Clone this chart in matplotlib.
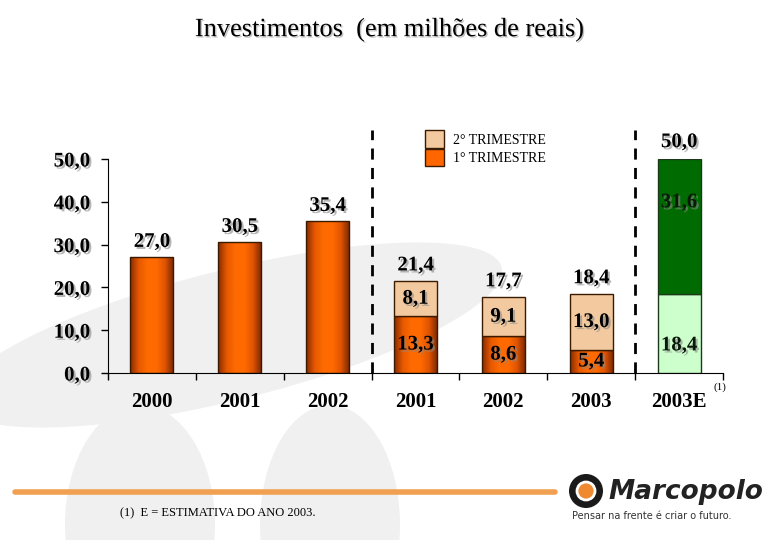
import matplotlib
matplotlib.use("Agg")
import matplotlib.pyplot as plt
import matplotlib.patheffects as pe
from matplotlib.patches import Patch, Ellipse, Circle
from matplotlib.colors import LinearSegmentedColormap
import numpy as np

# data
categories = ["2000", "2001", "2002", "2001", "2002", "2003", "2003E"]
annual_vals = [27.0, 30.5, 35.4]
q1_vals = [13.3, 8.6, 5.4]
q2_vals = [8.1, 9.1, 13.0]
half_totals = [21.4, 17.7, 18.4]
est_base = 18.4
est_rest = 31.6
est_total = 50.0
yticks = [0, 10, 20, 30, 40, 50]

def fmt(v):
    return f"{v:.1f}".replace(".", ",")

plt.rcParams['font.family'] = ['Liberation Serif', 'DejaVu Serif']

fig = plt.figure(figsize=(7.8, 5.4), dpi=100)
fig.patch.set_facecolor("white")

# faint grey swooshes in the background
bg = fig.add_axes([0, 0, 1, 1], zorder=-5)
bg.set_xlim(0, 780); bg.set_ylim(540, 0); bg.axis("off")
for (cx, cy, w, h, a) in [(230, 335, 560, 130, -14), (140, 525, 150, 240, 0),
                          (330, 525, 140, 240, 0)]:
    bg.add_patch(Ellipse((cx, cy), w, h, angle=a, facecolor="#f0f0f0", edgecolor="none"))

ax = fig.add_axes([108/780, 1-373/540, 615/780, 214/540])
ax.set_facecolor("none")
x = np.arange(len(categories))
w = 0.49

orange_cmap = LinearSegmentedColormap.from_list(
    "org", ["#8a2c00", "#e85a00", "#ff6a00", "#ff6a00", "#e05400", "#7a2600"])

def shade(bar):
    x0, y0 = bar.get_x(), bar.get_y()
    grad = np.linspace(0, 1, 64).reshape(1, -1)
    im = ax.imshow(grad, cmap=orange_cmap, aspect="auto", zorder=2,
                   extent=[x0, x0 + bar.get_width(), y0, y0 + bar.get_height()])
    im.set_clip_path(bar)

shadow = [pe.withSimplePatchShadow(offset=(1.5, -1.5), shadow_rgbFace="#888888", alpha=0.6)]
lab = dict(fontsize=15, fontweight="bold", ha="center", va="bottom", path_effects=shadow, zorder=5)
inner = dict(fontsize=15, fontweight="bold", ha="center", va="center", path_effects=shadow, zorder=5)

# annual bars
bars = ax.bar(x[:3], annual_vals, w, color="#ff6600", edgecolor="#3a1a00", linewidth=1, zorder=3)
for b, v in zip(bars, annual_vals):
    b.set_facecolor("none")
    shade(b)
    ax.text(b.get_x() + w/2, v + 1.3, fmt(v), **lab)

# half-year stacked bars
b1 = ax.bar(x[3:6], q1_vals, w, color="none", edgecolor="#3a1a00", linewidth=1, zorder=3)
for b in b1:
    shade(b)
ax.bar(x[3:6], q2_vals, w, bottom=q1_vals, color="#f3c9a0", edgecolor="#3a1a00", linewidth=1, zorder=3)
for i, xi in enumerate(x[3:6]):
    ax.text(xi, half_totals[i] + 1.4, fmt(half_totals[i]), **lab)
    ax.text(xi, q1_vals[i] / 2, fmt(q1_vals[i]), **inner)
    ax.text(xi, q1_vals[i] + q2_vals[i] / 2, fmt(q2_vals[i]), **inner)

# estimate bar
ax.bar(x[6], est_base, w, color="#ccffcc", edgecolor="#1a3a1a", linewidth=1, zorder=3)
ax.bar(x[6], est_rest, w, bottom=est_base, color="#006b00", edgecolor="#1a3a1a", linewidth=1, zorder=3)
ax.text(x[6], est_total + 1.6, fmt(est_total), **lab)
ax.text(x[6], est_base + est_rest * 0.68, fmt(est_rest), color="#0a1a0a", **inner)
ax.text(x[6], est_base * 0.35, fmt(est_base), color="#0a1a0a", **inner)

# dashed separators
for xs in [2.5, 5.5]:
    ax.plot([xs, xs], [0, 56.8], ls=(0, (4, 3)), color="black", lw=2, clip_on=False, zorder=4)

ax.set_xlim(-0.5, 6.5)
ax.set_ylim(0, 50)
ax.spines["top"].set_visible(False)
ax.spines["right"].set_visible(False)
ax.set_yticks(yticks)
ax.set_yticklabels([fmt(v) for v in yticks], fontsize=15, fontweight="bold")
for t in ax.get_yticklabels():
    t.set_path_effects(shadow)
ax.tick_params(axis="y", direction="out", length=5, width=1, pad=8)
ax.set_xticks(x)
ax.set_xticklabels(categories, fontsize=15, fontweight="bold")
ax.tick_params(axis="x", length=0, pad=14)
ax.set_xticks(np.arange(-0.5, 7, 1), minor=True)
ax.tick_params(axis="x", which="minor", direction="out", length=5, width=1)
ax.text(6.47, -3.2, "(1)", fontsize=8, ha="center", va="center")

# legend
handles = [Patch(facecolor="#f3c9a0", edgecolor="#3a1a00", label="2° TRIMESTRE"),
           Patch(facecolor="#ff6600", edgecolor="#3a1a00", label="1° TRIMESTRE")]
ax.legend(handles=handles, loc="upper left", bbox_to_anchor=(0.515, 1.135), frameon=False,
          fontsize=10, handlelength=1.4, handleheight=1.6, labelspacing=0.05,
          handletextpad=0.6, borderpad=0, borderaxespad=0)

# title
fig.text(0.5, 1-30/540, "Investimentos  (em milhões de reais)", ha="center", va="center",
         fontsize=19, path_effects=[pe.withSimplePatchShadow(offset=(1, -1), shadow_rgbFace="#999999", alpha=0.6)])

# footer
bg.plot([15, 555], [492, 492], color="#f0a050", lw=4, solid_capstyle="round")
bg.text(120, 513, "(1)  E = ESTIMATIVA DO ANO 2003.", fontsize=9, va="center")
bg.add_patch(Circle((586, 491), 17, facecolor="#1a1a1a", edgecolor="none"))
bg.add_patch(Circle((586, 491), 9, facecolor="#f08a30", edgecolor="white", lw=2))
bg.text(608, 492, "Marcopolo", fontsize=19, fontweight="bold", style="italic",
        family="DejaVu Sans", color="#222222", va="center")
bg.text(572, 516, "Pensar na frente é criar o futuro.", fontsize=7, family="DejaVu Sans",
        color="#333333", va="center")

fig.savefig("out.png", dpi=100)
